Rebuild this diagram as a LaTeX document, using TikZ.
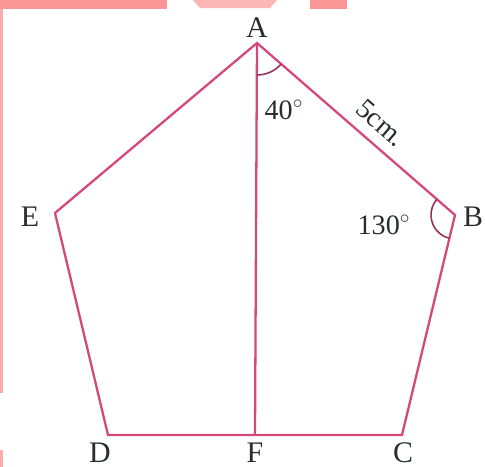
\documentclass[tikz,border=0pt]{standalone}
\usepackage{fontspec}
\setmainfont{Liberation Serif}
\usepackage{tikz}
\usetikzlibrary{calc}
\definecolor{edgepink}{RGB}{214,72,124}
\definecolor{markpink}{RGB}{250,150,150}
\definecolor{labelgray}{RGB}{40,45,45}

\begin{document}
\begin{tikzpicture}[x=0.02cm, y=-0.02cm,
  edge/.style={edgepink, line width=1.3pt},
  anglearc/.style={edgepink!70!black, line width=0.9pt},
  vlabel/.style={labelgray, font=\fontsize{17}{19}\selectfont, inner sep=0pt},
  measure/.style={labelgray, font=\fontsize{16}{18}\selectfont, inner sep=0pt}]
  \useasboundingbox (0,0) rectangle (485,467);
  % watermark remains at the edges
  \fill[markpink] (0,0) rectangle (167,9);
  \fill[markpink!70] (193,0) -- (277,0) -- (270,8) -- (200,8) -- cycle;
  \fill[markpink] (310,0) rectangle (347,9);
  \fill[markpink!80] (0,9) rectangle (3,393);
  \fill[markpink!80] (0,450) rectangle (3,467);
  % vertices of the pentagon (y runs downwards, so angles are mirrored)
  \coordinate (A) at (257,43);
  \coordinate (B) at (455,215);
  \coordinate (C) at (402,435);
  \coordinate (D) at (108,435);
  \coordinate (E) at (55,213);
  \coordinate (F) at (255,435);
  % sides and the line AF
  \draw[edge, line join=miter] (A) -- (B) -- (C) -- (D) -- (E) -- cycle;
  \draw[edge] (A) -- (F);
  % angle marks
  \draw[anglearc] ($(A)+(90:32)$) arc[start angle=90, end angle=41, radius=32];
  \draw[anglearc] ($(B)+(-139:24)$) arc[start angle=-139, end angle=-256, radius=24];
  % vertex labels
  \node[vlabel] (lA) at (257,28) {A};
  \node[vlabel] (lB) at (473,217) {B};
  \node[vlabel] (lE) at (30,217) {E};
  \node[vlabel] (lD) at (100,453) {D};
  \node[vlabel] (lF) at (255,453) {F};
  \node[vlabel] (lC) at (403,453) {C};
  % measures
  \node[measure] (a40) at (284,110) {40$^{\circ}$};
  \node[measure] (a130) at (384,225) {130$^{\circ}$};
  \node[measure, rotate=-41] (sAB) at (381,123) {5cm.};
\end{tikzpicture}
\end{document}
